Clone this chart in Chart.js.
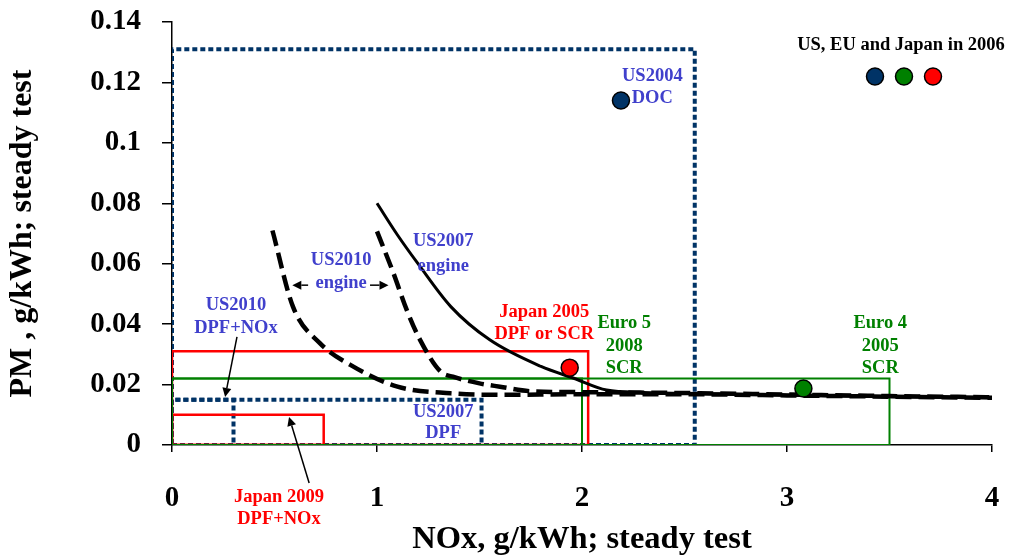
<!DOCTYPE html>
<html>
<head>
<meta charset="utf-8">
<script src="https://cdn.jsdelivr.net/npm/chart.js@4.4.1/dist/chart.umd.min.js"></script>
<style>
	html, body { margin: 0; padding: 0; background: #fff; }
	canvas { display: block; }
</style>
</head>
<body>
<canvas id="chart" width="1015" height="559"></canvas>
<script>
// Achsen
const xTicks = [0, 1, 2, 3, 4];
const yTickLabels = ["0", "0.02", "0.04", "0.06", "0.08", "0.1", "0.12", "0.14"];

// Grenzwert-Kästen: [NOx, PM]
const us2004Box = [2.55, 0.131];
const us2007DpfBox = [1.51, 0.015];
const us2010DpfBox = [0.30, 0.015];
const japan2005Box = [2.03, 0.031];
const japan2009Box = [0.74, 0.010];
const euro5Box = [2.0, 0.022];
const euro4Box = [3.5, 0.022];

// Motorkurven
const us2007EngineNox = [1.0, 1.1, 1.2, 1.36, 1.55, 1.8, 1.96, 2.12, 2.3, 2.6, 3.0, 3.5, 4.0];
const us2007EnginePm = [0.080, 0.0695, 0.060, 0.0458, 0.0348, 0.026, 0.0221, 0.0182, 0.0174, 0.0170, 0.0165, 0.0160, 0.0156];
const us2010EngineANox = [0.49, 0.59, 0.72, 0.87, 1.1, 1.36, 1.6, 2.0, 2.5, 3.0, 3.5, 4.0];
const us2010EngineAPm = [0.071, 0.0458, 0.0338, 0.0265, 0.0193, 0.0171, 0.0166, 0.0168, 0.0168, 0.0164, 0.0160, 0.0156];
const us2010EngineBNox = [1.0, 1.08, 1.145, 1.21, 1.31, 1.37, 1.5, 1.6, 1.75, 2.0, 2.5, 3.0, 3.5, 4.0];
const us2010EngineBPm = [0.0707, 0.0569, 0.0447, 0.0348, 0.0243, 0.0226, 0.0204, 0.0193, 0.0178, 0.0175, 0.0172, 0.0167, 0.0162, 0.0158];

// Werte 2006
const pointNames = ["US", "EU", "Japan"];
const pointNox = [2.19, 3.08, 1.94];
const pointPm = [0.114, 0.0187, 0.0256];
const pointColors = ["#003366", "#008000", "#ff0000"];

const navy = "#003366";
const blueText = "#4040cc";
const redCol = "#ff0000";
const greenCol = "#008000";
const serif = '"Liberation Serif", "Times New Roman", serif';

function boxPoints(box) {
	return [
		{ x: 0, y: 0 }, { x: box[0], y: 0 }, { x: box[0], y: box[1] },
		{ x: 0, y: box[1] }, { x: 0, y: 0 }
	];
}

function curvePoints(xs, ys) {
	return xs.map((x, i) => ({ x: x, y: ys[i] }));
}

function boxDataset(box, color, width, dash) {
	return {
		data: boxPoints(box),
		showLine: true,
		borderColor: color,
		borderWidth: width,
		borderDash: dash || [],
		borderCapStyle: "butt",
		borderJoinStyle: "miter",
		pointRadius: 0,
		tension: 0,
		fill: false,
		order: 3
	};
}

function curveDataset(xs, ys, dash, width) {
	return {
		data: curvePoints(xs, ys),
		showLine: true,
		borderColor: "#000",
		borderWidth: width,
		borderDash: dash,
		borderCapStyle: "butt",
		pointRadius: 0,
		cubicInterpolationMode: "monotone",
		fill: false,
		order: 1
	};
}

const datasets = [];
// Punkte
pointNames.forEach((name, i) => {
	datasets.push({
		label: name,
		data: [{ x: pointNox[i], y: pointPm[i] }],
		pointRadius: 8.5,
		pointBackgroundColor: pointColors[i],
		pointBorderColor: "#000",
		pointBorderWidth: 1.5,
		showLine: false,
		order: 0
	});
});
// Kurven
datasets.push(curveDataset(us2007EngineNox, us2007EnginePm, [], 3));
datasets.push(curveDataset(us2010EngineANox, us2010EngineAPm, [16, 7], 4.5));
datasets.push(curveDataset(us2010EngineBNox, us2010EngineBPm, [16, 7], 4.5));
// Kästen
datasets.push(boxDataset(euro4Box, greenCol, 2));
datasets.push(boxDataset(euro5Box, greenCol, 2));
datasets.push(boxDataset(japan2005Box, redCol, 2.5));
datasets.push(boxDataset(japan2009Box, redCol, 2.5));
datasets.push(boxDataset(us2004Box, navy, 4, [5, 3]));
datasets.push(boxDataset(us2007DpfBox, navy, 4, [5, 3]));
datasets.push(boxDataset(us2010DpfBox, navy, 4, [5, 3]));

// Beschriftungen im Diagramm (Datenkoordinaten)
const notes = [
	{ t: "US2004", x: 2.343, y: 0.1222, c: blueText },
	{ t: "DOC", x: 2.343, y: 0.1147, c: blueText },
	{ t: "US2007", x: 1.323, y: 0.0673, c: blueText },
	{ t: "engine", x: 1.323, y: 0.0593, c: blueText },
	{ t: "US2010", x: 0.825, y: 0.0610, c: blueText },
	{ t: "engine", x: 0.825, y: 0.0534, c: blueText },
	{ t: "US2010", x: 0.312, y: 0.0461, c: blueText },
	{ t: "DPF+NOx", x: 0.312, y: 0.0388, c: blueText },
	{ t: "US2007", x: 1.323, y: 0.0109, c: blueText },
	{ t: "DPF", x: 1.323, y: 0.0040, c: blueText },
	{ t: "Japan 2005", x: 1.816, y: 0.0438, c: redCol },
	{ t: "DPF or SCR", x: 1.816, y: 0.0368, c: redCol },
	{ t: "Euro 5", x: 2.206, y: 0.0404, c: greenCol },
	{ t: "2008", x: 2.206, y: 0.0328, c: greenCol },
	{ t: "SCR", x: 2.206, y: 0.0255, c: greenCol },
	{ t: "Euro 4", x: 3.455, y: 0.0404, c: greenCol },
	{ t: "2005", x: 3.455, y: 0.0328, c: greenCol },
	{ t: "SCR", x: 3.455, y: 0.0255, c: greenCol },
	{ t: "Japan 2009", x: 0.522, y: -0.0172, c: redCol },
	{ t: "DPF+NOx", x: 0.522, y: -0.0245, c: redCol }
];

// Pfeile: von (x1,y1) nach (x2,y2)
const arrows = [
	[0.317, 0.0358, 0.259, 0.0159],
	[0.669, -0.0126, 0.571, 0.0093],
	[0.664, 0.0529, 0.587, 0.0529],
	[0.966, 0.0529, 1.056, 0.0529]
];

const notesPlugin = {
	id: "notes",
	afterDatasetsDraw(chart) {
		const ctx = chart.ctx;
		const xs = chart.scales.x;
		const ys = chart.scales.y;
		ctx.save();
		ctx.font = "bold 18.5px " + serif;
		ctx.textAlign = "center";
		ctx.textBaseline = "middle";
		notes.forEach(n => {
			ctx.fillStyle = n.c;
			ctx.fillText(n.t, xs.getPixelForValue(n.x), ys.getPixelForValue(n.y));
		});

		// Pfeile
		ctx.strokeStyle = "#000";
		ctx.fillStyle = "#000";
		ctx.lineWidth = 1.5;
		arrows.forEach(a => {
			const x1 = xs.getPixelForValue(a[0]), y1 = ys.getPixelForValue(a[1]);
			const x2 = xs.getPixelForValue(a[2]), y2 = ys.getPixelForValue(a[3]);
			const ang = Math.atan2(y2 - y1, x2 - x1);
			const hl = 9, hw = 4.5;
			const bx = x2 - hl * Math.cos(ang), by = y2 - hl * Math.sin(ang);
			ctx.beginPath();
			ctx.moveTo(x1, y1);
			ctx.lineTo(bx, by);
			ctx.stroke();
			ctx.beginPath();
			ctx.moveTo(x2, y2);
			ctx.lineTo(bx + hw * Math.sin(ang), by - hw * Math.cos(ang));
			ctx.lineTo(bx - hw * Math.sin(ang), by + hw * Math.cos(ang));
			ctx.closePath();
			ctx.fill();
		});

		// Legende oben rechts
		const area = chart.chartArea;
		const lx = area.right - 91;
		ctx.fillStyle = "#000";
		ctx.fillText("US, EU and Japan in 2006", lx, area.top + 23);
		pointColors.forEach((col, i) => {
			ctx.beginPath();
			ctx.arc(lx - 26 + i * 29, area.top + 54.5, 8.5, 0, Math.PI * 2);
			ctx.fillStyle = col;
			ctx.fill();
			ctx.lineWidth = 1.5;
			ctx.strokeStyle = "#000";
			ctx.stroke();
		});
		ctx.restore();
	}
};

const chart = new Chart(document.getElementById("chart"), {
	type: "scatter",
	data: { datasets: datasets },
	options: {
		responsive: false,
		animation: false,
		layout: { padding: { top: 22, right: 23, left: 0, bottom: 0 } },
		plugins: {
			legend: { display: false },
			tooltip: { enabled: false }
		},
		scales: {
			x: {
				type: "linear",
				min: xTicks[0],
				max: xTicks[xTicks.length - 1],
				afterBuildTicks: s => { s.ticks = xTicks.map(v => ({ value: v })); },
				afterFit: s => { s.height = 114; s.paddingLeft = 0; s.paddingRight = 0; },
				ticks: {
					color: "#000",
					font: { family: serif, size: 29, weight: "bold" },
					padding: 29,
					maxRotation: 0
				},
				grid: { drawOnChartArea: false, tickLength: 7, color: "#000", lineWidth: 1.5 },
				border: { color: "#000", width: 1.5 },
				title: {
					display: true,
					text: "NOx, g/kWh; steady test",
					color: "#000",
					font: { family: serif, size: 32.5, weight: "bold" },
					padding: { top: 0, bottom: 0 }
				}
			},
			y: {
				type: "linear",
				min: 0,
				max: 0.14,
				afterBuildTicks: s => { s.ticks = yTickLabels.map(v => ({ value: parseFloat(v) })); },
				afterFit: s => { s.width = 172; s.paddingTop = 0; s.paddingBottom = 0; },
				ticks: {
					color: "#000",
					font: { family: serif, size: 29, weight: "bold" },
					padding: 21,
					callback: (v, i) => yTickLabels[i]
				},
				grid: { drawOnChartArea: false, tickLength: 10, color: "#000", lineWidth: 1.5 },
				border: { color: "#000", width: 1.5 },
				title: {
					display: true,
					text: "PM , g/kWh; steady test",
					color: "#000",
					font: { family: serif, size: 32, weight: "bold" },
					padding: { top: 4, bottom: 0 }
				}
			}
		}
	},
	plugins: [notesPlugin]
});
</script>
</body>
</html>
